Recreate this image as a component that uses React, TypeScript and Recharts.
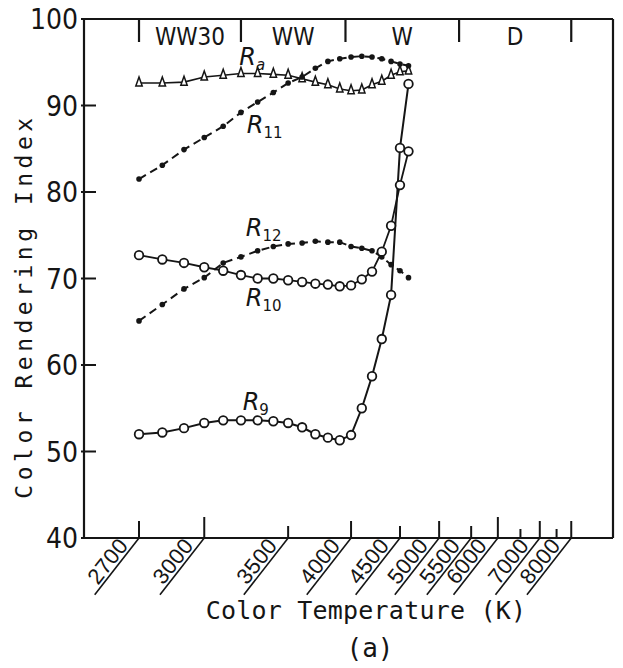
import React from 'react';
import { LineChart, Line, XAxis, YAxis, ReferenceDot } from 'recharts';

// Measured colour temperatures (K) of the lamp series
const temperatures = [
  2700, 2800, 2900, 3000, 3100, 3200, 3300, 3400, 3500, 3600,
  3700, 3800, 3900, 4000, 4100, 4200, 4300, 4400, 4500, 4600,
];

// General colour rendering index Ra
const ra = [
  92.6, 92.6, 92.7, 93.3, 93.5, 93.7, 93.7, 93.6, 93.5, 93.1,
  92.7, 92.4, 91.9, 91.7, 91.8, 92.4, 92.8, 93.5, 93.9, 94.0,
];
// Special colour rendering indices
const r11 = [
  81.5, 83.1, 84.9, 86.3, 87.6, 89.2, 90.4, 91.5, 92.6, 93.3,
  94.3, 95.1, 95.4, 95.6, 95.7, 95.6, 95.4, 95.1, 94.8, 94.6,
];
const r12 = [
  65.1, 67.0, 68.8, 70.1, 71.8, 72.5, 73.2, 73.7, 74.0, 74.1,
  74.3, 74.2, 74.2, 73.7, 73.5, 73.2, 72.5, 71.6, 70.9, 70.1,
];
const r10 = [
  72.7, 72.2, 71.8, 71.3, 70.9, 70.4, 70.0, 70.0, 69.8, 69.6,
  69.4, 69.3, 69.1, 69.2, 69.9, 70.8, 73.1, 76.1, 80.8, 84.7,
];
const r9 = [
  52.0, 52.2, 52.7, 53.3, 53.6, 53.6, 53.6, 53.5, 53.3, 52.8,
  52.0, 51.6, 51.3, 51.9, 55.0, 58.7, 63.0, 68.1, 85.1, 92.5,
];

// Axis ticks
const axisTemps = [2700, 3000, 3500, 4000, 4500, 5000, 5500, 6000, 6500, 7000, 7500, 8000];
const labeledTemps = [2700, 3000, 3500, 4000, 4500, 5000, 5500, 6000, 7000, 8000];
const yTicks = [40, 50, 60, 70, 80, 90, 100];

// Lamp colour classes along the top edge
const zoneBounds = [2700, 3200, 3950, 5300, 8000];
const zoneNames = ['WW30', 'WW', 'W', 'D'];

const INK = '#151515';
const MONO = "'DejaVu Sans Mono', 'Liberation Mono', monospace";
const NARROW = "'Liberation Sans Narrow', 'DejaVu Sans Condensed', 'Liberation Sans', sans-serif";
const SANS = "'Liberation Sans', Arial, sans-serif";

// The temperature scale is linear in reciprocal temperature (mired)
const toMired = (t: number) => 1e6 / t;
const toKelvin = (m: number) => Math.round(1e6 / m / 50) * 50;

const rows = temperatures.map((t, i) => ({
  mired: toMired(t),
  ra: ra[i],
  r11: r11[i],
  r12: r12[i],
  r10: r10[i],
  r9: r9[i],
}));

const zoneMids = zoneNames.map((_, i) => (toMired(zoneBounds[i]) + toMired(zoneBounds[i + 1])) / 2);

const tickLength = (t: number) => {
  if (t === 3000 || t === 6000) return 21;
  if (t === 3500 || t === 4500 || t === 5500) return 12;
  if (t === 6500 || t === 7500) return 9;
  return 17;
};

const BottomTick = (props: any) => {
  const { x, y, payload } = props;
  const t = toKelvin(payload.value);
  const len = tickLength(t);
  return (
    <g>
      <line x1={x} y1={y} x2={x} y2={y - len} stroke={INK} strokeWidth={2} />
      {labeledTemps.includes(t) && (
        <g transform={`translate(${x},${y}) rotate(-52)`}>
          <line x1={0} y1={0} x2={-72} y2={0} stroke={INK} strokeWidth={1.6} />
          <text
            x={-12}
            y={-3}
            textAnchor="end"
            fontFamily={SANS}
            fontSize={22}
            letterSpacing={0.5}
            fill={INK}
          >
            {t}
          </text>
        </g>
      )}
    </g>
  );
};

const TopTick = (props: any) => {
  const { x, y, index } = props;
  if (index < zoneBounds.length) {
    return <line x1={x} y1={y} x2={x} y2={y + 23} stroke={INK} strokeWidth={2.2} />;
  }
  const name = zoneNames[index - zoneBounds.length];
  return (
    <text x={x} y={y + 26} textAnchor="middle" fontFamily={NARROW} fontSize={24} fill={INK}>
      {name}
    </text>
  );
};

const LeftTick = (props: any) => {
  const { x, y, payload } = props;
  return (
    <g>
      <line x1={x - 3} y1={y} x2={x + 12} y2={y} stroke={INK} strokeWidth={2} />
      <text
        x={x - 6}
        y={y}
        dy="0.36em"
        textAnchor="end"
        fontFamily={NARROW}
        fontSize={28}
        fill={INK}
      >
        {payload.value}
      </text>
    </g>
  );
};

const OpenCircle = (props: any) => {
  const { cx, cy, index } = props;
  return <circle key={index} cx={cx} cy={cy} r={4.3} fill="#fff" stroke={INK} strokeWidth={1.8} />;
};

const FilledDot = (props: any) => {
  const { cx, cy, index } = props;
  return <circle key={index} cx={cx} cy={cy} r={2.8} fill={INK} stroke="none" />;
};

const Triangle = (props: any) => {
  const { cx, cy, index } = props;
  const d = `M${cx},${cy - 6} L${cx + 3.2},${cy + 3} L${cx - 3.2},${cy + 3} Z`;
  return <path key={index} d={d} fill="#fff" stroke={INK} strokeWidth={1.5} />;
};

// Curve names written next to each series
const seriesLabels = [
  { temp: 3190, value: 94.7, sub: 'a' },
  { temp: 3234, value: 86.8, sub: '11' },
  { temp: 3228, value: 74.9, sub: '12' },
  { temp: 3228, value: 66.8, sub: '10' },
  { temp: 3210, value: 54.8, sub: '9' },
];

const SeriesName = ({ cx, cy, sub }: any) => (
  <text x={cx} y={cy} fontFamily="'DejaVu Sans', sans-serif" fontStyle="italic" fontSize={24} fill={INK}>
    R
    <tspan dy={5} fontSize={15} fontStyle={sub === 'a' ? 'italic' : 'normal'}>
      {sub}
    </tspan>
  </text>
);

export default function App() {
  const domain: [number, number] = [101.3, 401.6];
  return (
    <div style={{ position: 'absolute', left: 0, top: 0, width: 623, height: 668, background: '#fff' }}>
      <LineChart width={623} height={668} data={rows} margin={{ top: 18, right: 9, bottom: 100, left: 0 }}>
        <XAxis
          dataKey="mired"
          type="number"
          domain={domain}
          reversed
          allowDataOverflow
          ticks={axisTemps.map(toMired)}
          interval={0}
          tickSize={0}
          tickMargin={0}
          tickLine={false}
          height={30}
          axisLine={{ stroke: INK, strokeWidth: 2.2 }}
          tick={(p: any) => <BottomTick {...p} />}
        />
        <XAxis
          xAxisId="top"
          orientation="top"
          dataKey="mired"
          type="number"
          domain={domain}
          reversed
          allowDataOverflow
          ticks={[...zoneBounds.map(toMired), ...zoneMids]}
          interval={0}
          tickSize={0}
          tickMargin={0}
          tickLine={false}
          height={1}
          axisLine={{ stroke: INK, strokeWidth: 2.2 }}
          tick={(p: any) => <TopTick {...p} />}
        />
        <YAxis
          type="number"
          domain={[40, 100]}
          ticks={yTicks}
          interval={0}
          tickSize={0}
          tickMargin={0}
          tickLine={false}
          width={84}
          axisLine={{ stroke: INK, strokeWidth: 2.2 }}
          tick={(p: any) => <LeftTick {...p} />}
        />
        <YAxis
          yAxisId="right"
          orientation="right"
          type="number"
          domain={[40, 100]}
          tick={false}
          tickLine={false}
          width={1}
          axisLine={{ stroke: INK, strokeWidth: 2.2 }}
        />

        <Line
          dataKey="ra"
          type="linear"
          stroke={INK}
          strokeWidth={1.6}
          dot={(p: any) => <Triangle {...p} />}
          isAnimationActive={false}
        />
        <Line
          dataKey="r11"
          type="linear"
          stroke={INK}
          strokeWidth={2}
          strokeDasharray="8 5"
          dot={(p: any) => <FilledDot {...p} />}
          isAnimationActive={false}
        />
        <Line
          dataKey="r12"
          type="linear"
          stroke={INK}
          strokeWidth={2}
          strokeDasharray="8 5"
          dot={(p: any) => <FilledDot {...p} />}
          isAnimationActive={false}
        />
        <Line
          dataKey="r10"
          type="linear"
          stroke={INK}
          strokeWidth={1.8}
          dot={(p: any) => <OpenCircle {...p} />}
          isAnimationActive={false}
        />
        <Line
          dataKey="r9"
          type="linear"
          stroke={INK}
          strokeWidth={2}
          dot={(p: any) => <OpenCircle {...p} />}
          isAnimationActive={false}
        />

        {seriesLabels.map((s) => (
          <ReferenceDot
            key={s.sub}
            x={toMired(s.temp)}
            y={s.value}
            r={0}
            shape={(p: any) => <SeriesName cx={p.cx} cy={p.cy} sub={s.sub} />}
          />
        ))}

        <text
          transform="translate(32,306) rotate(-90)"
          textAnchor="middle"
          fontFamily={MONO}
          fontSize={23}
          letterSpacing={4.5}
          fill={INK}
        >
          Color Rendering Index
        </text>
        <text x={366} y={619} textAnchor="middle" fontFamily={MONO} fontSize={25} letterSpacing={0.2} fill={INK}>
          Color Temperature (K)
        </text>
        <text x={370} y={657} textAnchor="middle" fontFamily={MONO} fontSize={26} fill={INK}>
          (a)
        </text>
      </LineChart>
    </div>
  );
}
